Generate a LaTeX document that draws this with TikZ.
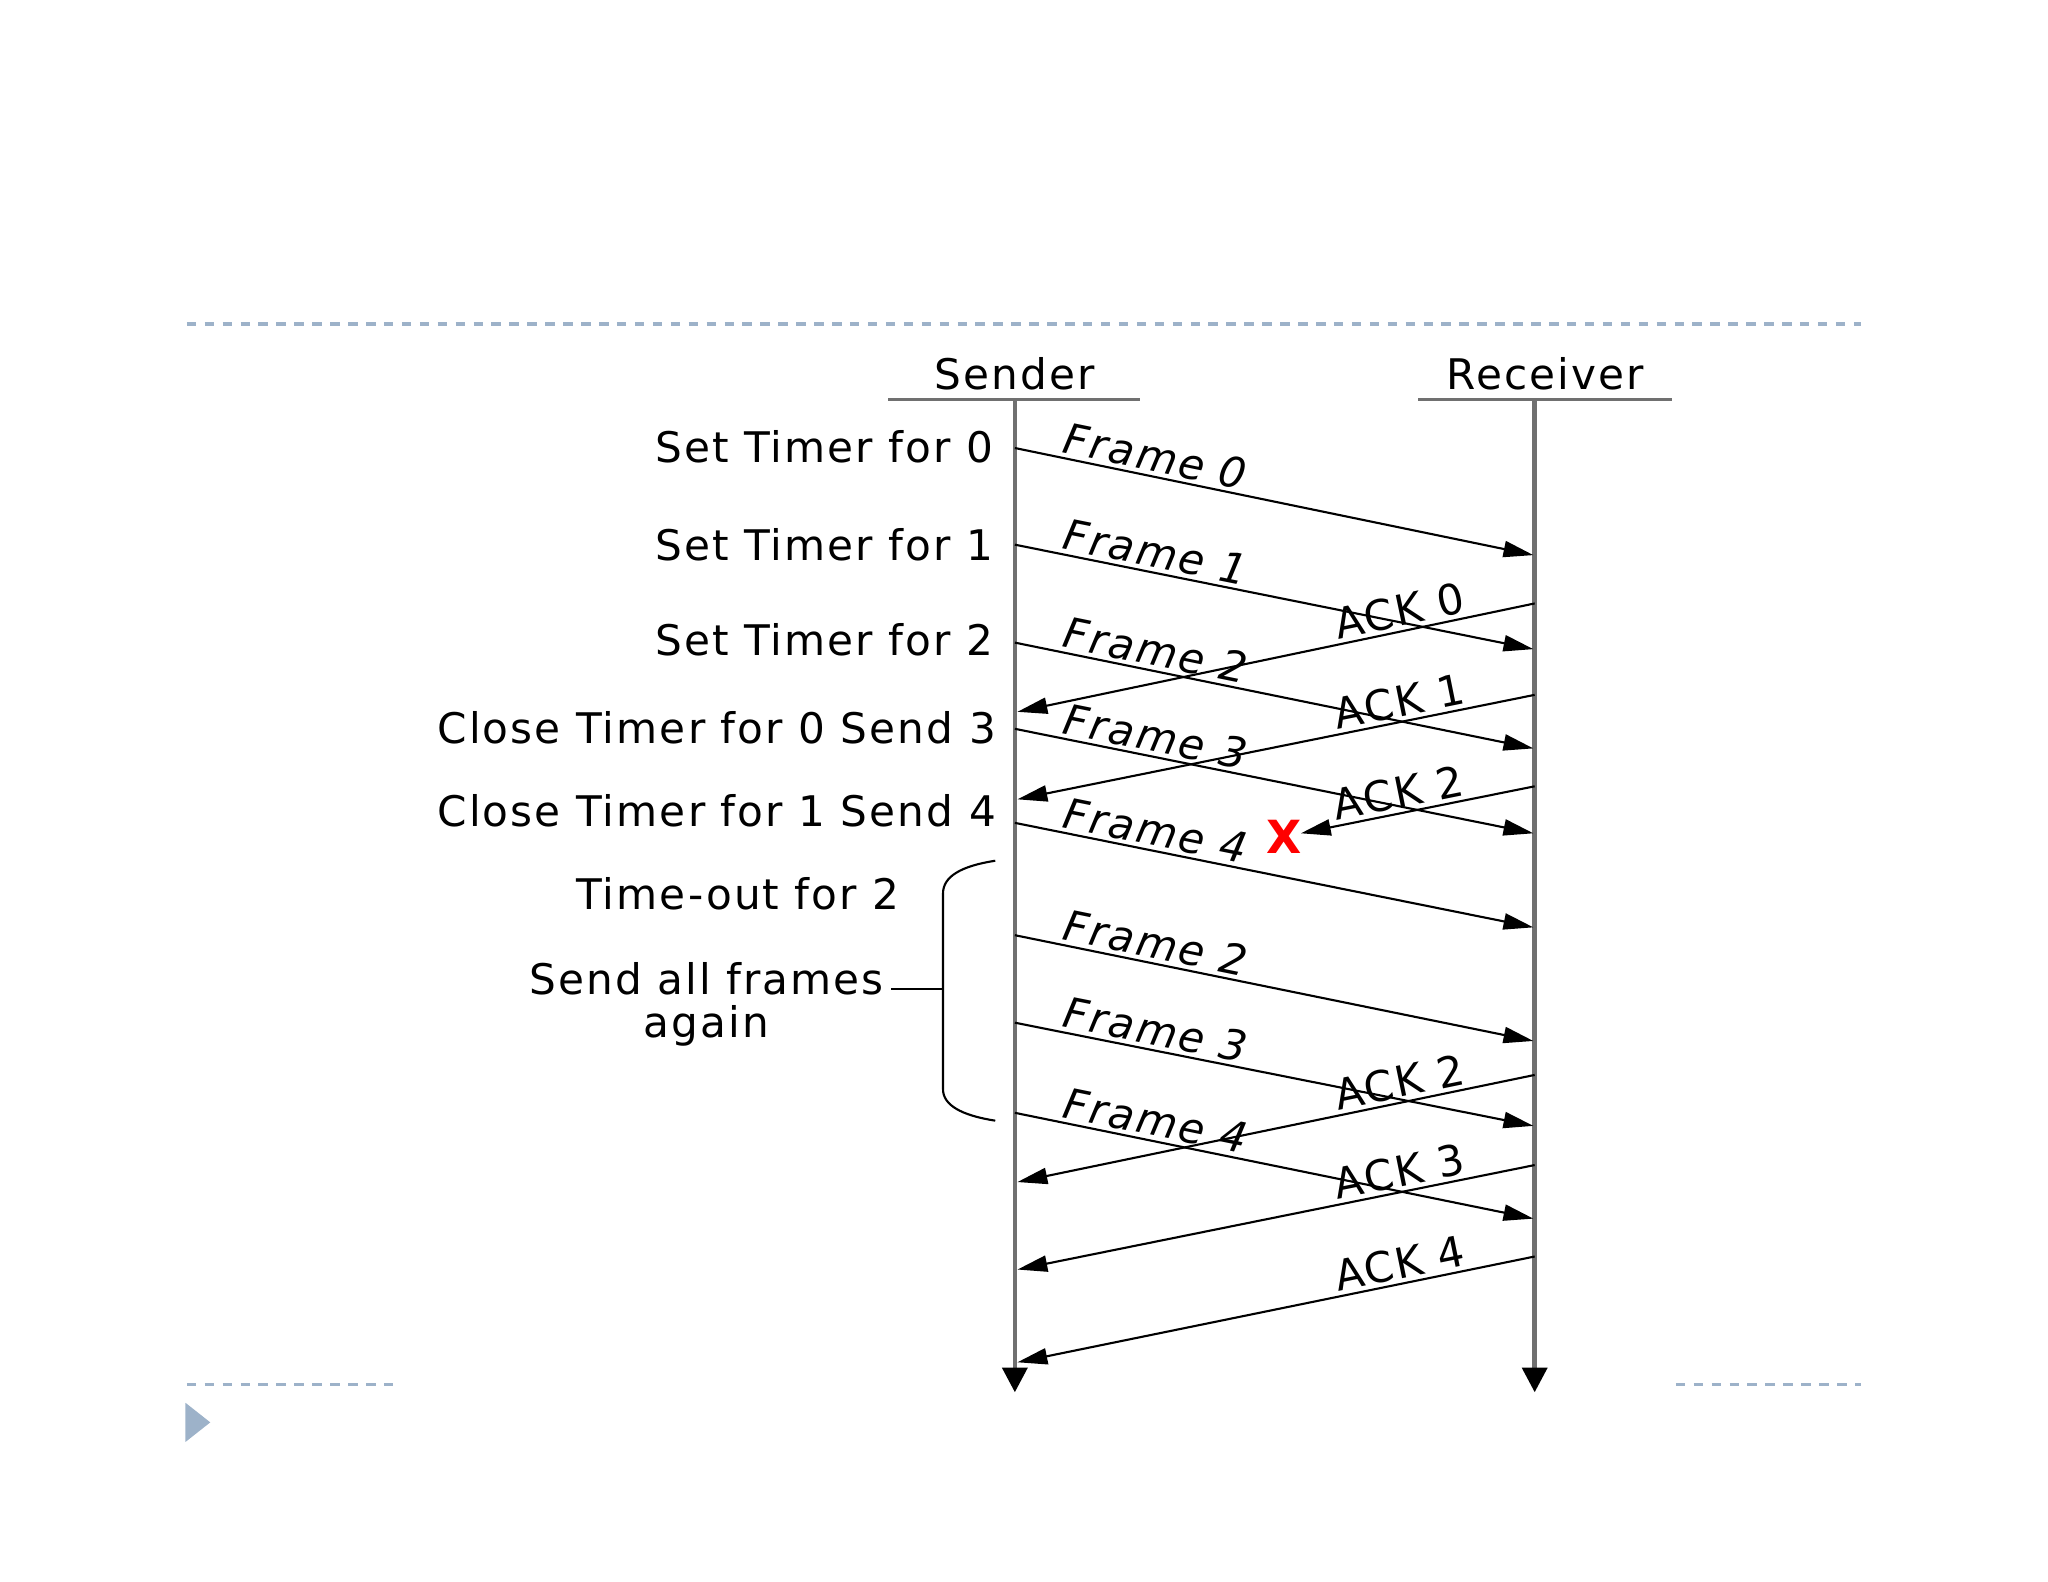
\documentclass[tikz,border=0pt]{standalone}
\usepackage{fontspec}
\setmainfont{DejaVu Sans}[LetterSpace=5]
\usepackage{xcolor}
\usetikzlibrary{arrows.meta, positioning}

\definecolor{slideblue}{HTML}{9DB2C9}
\definecolor{lifegray}{HTML}{707070}

\begin{document}
\begin{tikzpicture}[
    x=0.01306cm, y=-0.01306cm,
    lifeline/.style={draw=lifegray, line width=1.3pt, -{Triangle[length=7pt, width=7pt, color=black]}},
    headline/.style={draw=lifegray, line width=0.9pt},
    msg/.style={draw=black, line width=0.6pt, -{Triangle[length=8.5pt, width=4.6pt]}},
    frm/.style={font=\fontsize{12}{14}\selectfont\itshape, inner sep=1pt, sloped, anchor=south west, pos=0.08},
    ack/.style={font=\fontsize{12}{14}\selectfont, inner sep=1pt, sloped, anchor=south east, pos=0.12},
    note/.style={font=\fontsize{12}{12}\selectfont, inner sep=0pt},
    rule/.style={draw=slideblue, line width=0.9pt, dash pattern=on 2.7pt off 2.4pt}
]
\useasboundingbox (0,0) rectangle (1568,1211);

% slide decoration
\draw[rule] (143,248) -- (1425,248);
\draw[rule] (143,1060) -- (303,1060);
\draw[rule] (1283,1060) -- (1425,1060);
\fill[slideblue] (142,1074) -- (161,1089) -- (142,1104) -- cycle;

% headers and lifelines
\node[note] (sender)   at (777,286)  {Sender};
\node[note] (receiver) at (1183,286) {Receiver};
\draw[headline] (680,306) -- (873,306);
\draw[headline] (1086,306) -- (1280,306);
\coordinate (stop) at (777,306);
\coordinate (sbot) at (777,1066);
\coordinate (rtop) at (1175,306);
\coordinate (rbot) at (1175,1066);
\draw[lifeline] (stop) -- (sbot);
\draw[lifeline] (rtop) -- (rbot);

% sender side notes
\node[note, anchor=east] (t0) at (761,342) {Set Timer for 0};
\node[note, anchor=east] (t1) at (761,417) {Set Timer for 1};
\node[note, anchor=east] (t2) at (761,490) {Set Timer for 2};
\node[note, anchor=east] (c0) at (763,557) {Close Timer for 0 Send 3};
\node[note, anchor=east] (c1) at (763,621) {Close Timer for 1 Send 4};
\node[note] (tout)  at (565,684) {Time-out for 2};
\node[note, align=center] (again) at (541,769) {Send all frames\\again};

% brace
\coordinate (brtop) at (762,659);
\coordinate (brmid) at (722,757);
\coordinate (brbot) at (762,858);
\draw[line width=0.6pt] (brtop) .. controls (736,663) and (722,671) .. (722,684)
    -- (722,834) .. controls (722,846) and (736,854) .. (brbot);
\draw[line width=0.6pt] (brmid) -- (682,757);

% frames
\coordinate (sF0) at (777,343);  \coordinate (rF0) at (1174,425);
\coordinate (sF1) at (777,417);  \coordinate (rF1) at (1174,497);
\coordinate (sF2) at (777,492);  \coordinate (rF2) at (1174,573);
\coordinate (sF3) at (777,558);  \coordinate (rF3) at (1174,638);
\coordinate (sF4) at (777,630);  \coordinate (rF4) at (1174,710);
\coordinate (sF5) at (777,716);  \coordinate (rF5) at (1174,797);
\coordinate (sF6) at (777,783);  \coordinate (rF6) at (1174,862);
\coordinate (sF7) at (777,852);  \coordinate (rF7) at (1174,933);

\draw[msg] (sF0) -- node[frm] {Frame 0} (rF0);
\draw[msg] (sF1) -- node[frm] {Frame 1} (rF1);
\draw[msg] (sF2) -- node[frm] {Frame 2} (rF2);
\draw[msg] (sF3) -- node[frm] {Frame 3} (rF3);
\draw[msg] (sF4) -- node[frm] {Frame 4} (rF4);
\draw[msg] (sF5) -- node[frm] {Frame 2} (rF5);
\draw[msg] (sF6) -- node[frm] {Frame 3} (rF6);
\draw[msg] (sF7) -- node[frm] {Frame 4} (rF7);

% acks
\coordinate (rA0) at (1175,462);  \coordinate (sA0) at (779,545);
\coordinate (rA1) at (1175,532);  \coordinate (sA1) at (779,612);
\coordinate (rA2) at (1175,602);  \coordinate (lostend) at (996,638);
\coordinate (rA3) at (1175,823);  \coordinate (sA3) at (779,905);
\coordinate (rA4) at (1175,892);  \coordinate (sA4) at (779,972);
\coordinate (rA5) at (1175,962);  \coordinate (sA5) at (779,1043);

\draw[msg] (rA0) -- node[ack] {ACK 0} (sA0);
\draw[msg] (rA1) -- node[ack] {ACK 1} (sA1);
\draw[msg] (rA2) -- node[ack, pos=0.27] {ACK 2} (lostend);
\draw[msg] (rA3) -- node[ack] {ACK 2} (sA3);
\draw[msg] (rA4) -- node[ack] {ACK 3} (sA4);
\draw[msg] (rA5) -- node[ack] {ACK 4} (sA5);

% lost ack
\node[font=\fontsize{13}{14}\selectfont\bfseries, text=red, inner sep=0pt] (lost) at (983,641) {X};
\end{tikzpicture}
\end{document}
